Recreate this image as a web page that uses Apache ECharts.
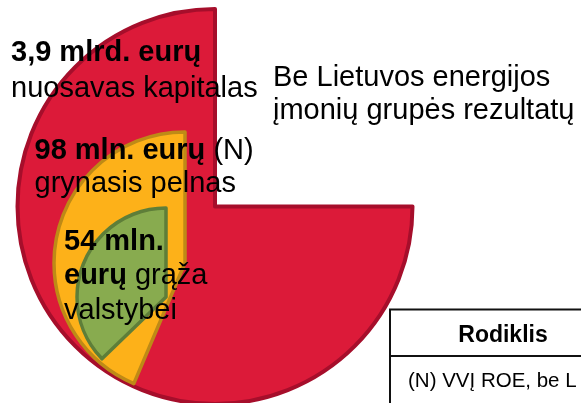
<!DOCTYPE html>
<html>
<head>
<meta charset="utf-8">
<script src="https://cdn.jsdelivr.net/npm/echarts@6/dist/echarts.min.js"></script>
<style>
html,body{margin:0;padding:0;background:#fff;}
#main{width:581px;height:403px;}
</style>
</head>
<body>
<div id="main"></div>
<script>
// ---- data ----
const sectorNames = ['nuosavas kapitalas', 'grynasis pelnas', 'grąža valstybei'];
const sectorAmounts = ['3,9 mlrd. eurų', '98 mln. eurų', '54 mln. eurų'];
const sectorSweepDeg = [270, 157, 134];   // visible angle of each sector
const titleLines = ['Be Lietuvos energijos', 'įmonių grupės rezultatų'];
const tableHeader = ['Rodiklis'];
const tableRows = ['(N) VVĮ ROE, be L'];

// ---- styles / layout ----
const FONT = "'Liberation Sans', Arial, sans-serif";
const sectorStyle = [
  { center: [215, 206.5], r: 197.5, start: 0,  clockwise: true,  fill: '#DC1A39', border: '#A60E2B', bw: 4 },
  { center: [185, 263], r: 131, start: 90, clockwise: false, fill: '#FDB119', border: '#BE8A16', bw: 3.5 },
  { center: [166, 297], r: 89,  start: 90, clockwise: false, fill: '#88AB4F', border: '#5E7E39', bw: 3.5 }
];

const series = sectorSweepDeg.map(function (deg, i) {
  const s = sectorStyle[i];
  return {
    type: 'pie',
    name: sectorNames[i],
    center: s.center,
    radius: [0, s.r],
    startAngle: s.start,
    clockwise: s.clockwise,
    silent: true,
    animation: false,
    z: 2 + i,
    label: { show: false },
    labelLine: { show: false },
    emphasis: { disabled: true },
    data: [
      { name: sectorNames[i], value: deg,
        itemStyle: { color: s.fill, borderColor: s.border, borderWidth: s.bw, borderJoin: 'round' } },
      { name: '', value: 360 - deg,
        itemStyle: { color: 'rgba(0,0,0,0)', borderWidth: 0 } }
    ]
  };
});

function line(x, baseline, text, size) {
  const fs = size || 29;
  return {
    type: 'text', x: x, y: baseline - fs * 0.27, z: 100,
    style: {
      text: text, fontSize: fs, fontFamily: FONT, fill: '#000',
      verticalAlign: 'middle', align: 'left',
      rich: {
        b: { fontSize: fs, fontFamily: FONT, fontWeight: 'bold', fill: '#000' },
        r: { fontSize: fs, fontFamily: FONT, fontWeight: 'normal', fill: '#000' }
      }
    }
  };
}

const amt0 = sectorAmounts[0];
const amt1 = sectorAmounts[1];
const amt2 = sectorAmounts[2].split(' ');
const nm2 = sectorNames[2].split(' ');

const graphic = [
  line(11, 61, '{b|' + amt0 + '}'),
  line(11, 96.5, '{r|' + sectorNames[0] + '}'),
  line(34.5, 159, '{b|' + amt1 + '}{r| (N)}'),
  line(34.5, 192, '{r|' + sectorNames[1] + '}'),
  line(64, 249.5, '{b|' + amt2[0] + ' ' + amt2[1] + '}'),
  line(64, 284, '{b|' + amt2[2] + '}{r| ' + nm2[0] + '}'),
  line(64, 319, '{r|' + nm2[1] + '}'),
  line(273, 86, '{r|' + titleLines[0] + '}'),
  line(273, 118.5, '{r|' + titleLines[1] + '}'),
  // table
  { type: 'rect', z: 90, shape: { x: 390, y: 309.5, width: 260, height: 120 },
    style: { fill: '#fff', stroke: '#111', lineWidth: 2 } },
  { type: 'line', z: 91, shape: { x1: 390, y1: 356, x2: 600, y2: 356 },
    style: { stroke: '#111', lineWidth: 2 } },
  { type: 'text', z: 100, x: 503, y: 336,
    style: { text: tableHeader[0], fontSize: 23, fontWeight: 'bold', fontFamily: FONT,
             fill: '#000', align: 'center', verticalAlign: 'middle' } },
  { type: 'text', z: 100, x: 408, y: 381,
    style: { text: tableRows[0], fontSize: 20.5, fontFamily: FONT,
             fill: '#000', align: 'left', verticalAlign: 'middle' } }
];

const chart = echarts.init(document.getElementById('main'), null, { renderer: 'canvas' });
chart.setOption({
  animation: false,
  backgroundColor: '#fff',
  series: series,
  graphic: graphic
});
</script>
</body>
</html>
